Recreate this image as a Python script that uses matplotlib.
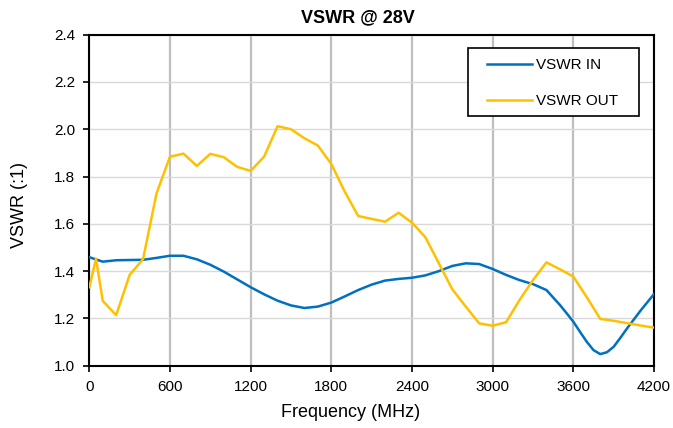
import matplotlib
matplotlib.use("Agg")
import matplotlib.pyplot as plt
from matplotlib.patches import Rectangle

plt.rcParams['font.family'] = ['Liberation Sans', 'DejaVu Sans']

# ---- data ----
freq_in = [0, 100, 200, 300, 400, 500, 600, 700, 800, 900, 1000, 1100, 1200, 1300,
           1400, 1500, 1600, 1700, 1800, 1900, 2000, 2100, 2200, 2300, 2400, 2500,
           2600, 2700, 2800, 2900, 3000, 3100, 3200, 3300, 3400, 3500, 3550, 3600,
           3650, 3700, 3750, 3800, 3850, 3900, 3950, 4000, 4100, 4200]
vswr_in = [1.459, 1.440, 1.446, 1.447, 1.448, 1.456, 1.465, 1.465, 1.450, 1.427,
           1.398, 1.365, 1.332, 1.302, 1.275, 1.255, 1.244, 1.250, 1.267, 1.293,
           1.320, 1.343, 1.360, 1.367, 1.372, 1.382, 1.400, 1.422, 1.433, 1.430,
           1.409, 1.384, 1.362, 1.345, 1.320, 1.257, 1.222, 1.186, 1.143, 1.101,
           1.066, 1.049, 1.057, 1.080, 1.118, 1.158, 1.233, 1.303]

freq_out = [0, 50, 100, 200, 300, 400, 500, 600, 700, 800, 900, 1000, 1100, 1200,
            1300, 1400, 1500, 1600, 1700, 1800, 1900, 2000, 2100, 2200, 2300, 2400,
            2500, 2600, 2700, 2800, 2900, 3000, 3100, 3200, 3300, 3400, 3500, 3600,
            3700, 3800, 3900, 4000, 4100, 4200]
vswr_out = [1.332, 1.453, 1.274, 1.214, 1.384, 1.451, 1.729, 1.884, 1.897, 1.845,
            1.896, 1.882, 1.841, 1.824, 1.884, 2.013, 2.000, 1.962, 1.931, 1.853,
            1.736, 1.633, 1.621, 1.609, 1.647, 1.605, 1.543, 1.433, 1.323, 1.250,
            1.179, 1.169, 1.184, 1.278, 1.362, 1.437, 1.408, 1.377, 1.290, 1.198,
            1.190, 1.180, 1.170, 1.161]

x_ticks = [0, 600, 1200, 1800, 2400, 3000, 3600, 4200]
y_ticks = [1.0, 1.2, 1.4, 1.6, 1.8, 2.0, 2.2, 2.4]
series_labels = ["VSWR IN", "VSWR OUT"]
colors = ["#0070C0", "#FFC000"]

W, H = 673, 428
fig = plt.figure(figsize=(W / 100, H / 100), dpi=100)
L, R, T, B = 89.3, 654.0, 34.7, 365.7
ax = fig.add_axes([L / W, 1 - B / H, (R - L) / W, (B - T) / H])

ax.plot(freq_in, vswr_in, color=colors[0], lw=1.8, label=series_labels[0], zorder=3)
ax.plot(freq_out, vswr_out, color=colors[1], lw=1.8, label=series_labels[1], zorder=3)

ax.set_xlim(0, 4200)
ax.set_ylim(1.0, 2.4)
ax.set_xticks(x_ticks)
ax.set_yticks(y_ticks)
ax.set_yticklabels([f"{v:.1f}" for v in y_ticks])
ax.set_xticklabels([str(v) for v in x_ticks])

ax.xaxis.grid(True, color="#BFBFBF", lw=1.6, zorder=0)
ax.yaxis.grid(True, color="#D9D9D9", lw=1.0, zorder=0)
ax.set_axisbelow(True)

for s in ax.spines.values():
    s.set_color("black")
    s.set_linewidth(1.5)

ax.tick_params(axis='both', direction='out', length=4, width=1.2, colors='black',
               labelsize=11, pad=6)

fig.text(358 / W, 1 - 22.7 / H, "VSWR @ 28V", ha='center', va='baseline',
         fontsize=13, fontweight='bold')
fig.text(351 / W, 1 - 416.7 / H, "Frequency (MHz)", ha='center', va='baseline',
         fontsize=13)
fig.text(20 / W, 1 - 205 / H, "VSWR (:1)", ha='center', va='center',
         rotation=90, fontsize=13)

# legend frame + legend
frame = Rectangle((468.3 / W, 1 - 115.7 / H), (639.3 - 468.3) / W,
                  (115.7 - 48.3) / H, transform=fig.transFigure,
                  facecolor='white', edgecolor='black', lw=1.2, zorder=4,
                  clip_on=False)
ax.add_patch(frame)
leg = ax.legend(loc='upper left', bbox_to_anchor=(486.7 / W, 1 - 58 / H),
                bbox_transform=fig.transFigure, frameon=False, fontsize=11,
                handlelength=2.95, handletextpad=0.3, labelspacing=1.45,
                borderpad=0, borderaxespad=0)
leg.set_zorder(6)

fig.savefig("out.png", dpi=100)
